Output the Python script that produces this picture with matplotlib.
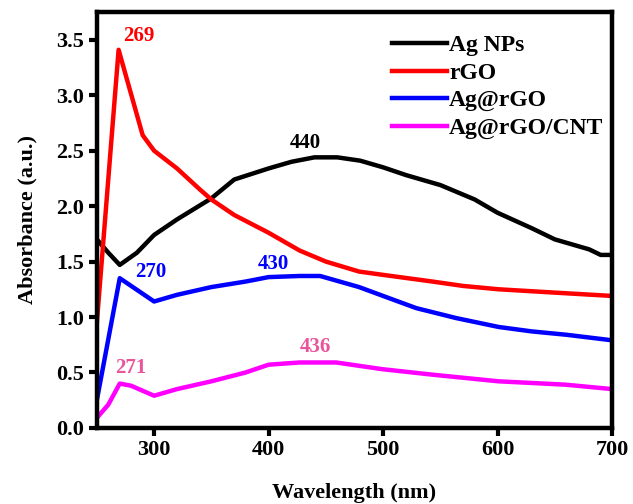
import numpy as np
import matplotlib
matplotlib.use('Agg')
import matplotlib.pyplot as plt

# UV-Vis spectra
wl_ag = [250, 260, 270, 285, 300, 320, 350, 370, 400, 420, 440, 460, 480, 500,
         520, 550, 580, 600, 630, 650, 680, 690, 700]
abs_ag = [1.70, 1.58, 1.47, 1.58, 1.74, 1.88, 2.07, 2.24, 2.34, 2.40, 2.44, 2.44,
          2.41, 2.35, 2.28, 2.19, 2.06, 1.94, 1.80, 1.70, 1.61, 1.56, 1.56]

wl_rgo = [250, 269, 290, 300, 320, 340, 350, 370, 400, 427, 450, 479, 500, 543,
          570, 601, 650, 700]
abs_rgo = [0.95, 3.41, 2.64, 2.50, 2.34, 2.15, 2.06, 1.92, 1.76, 1.60, 1.50, 1.41,
           1.38, 1.32, 1.28, 1.25, 1.22, 1.19]

wl_agrgo = [250, 270, 300, 320, 350, 380, 400, 427, 445, 479, 500, 529, 564, 601,
            630, 660, 700]
abs_agrgo = [0.25, 1.35, 1.14, 1.20, 1.27, 1.32, 1.36, 1.37, 1.37, 1.27, 1.19, 1.08,
             0.99, 0.91, 0.87, 0.84, 0.79]

wl_cnt = [250, 260, 270, 280, 300, 320, 350, 380, 400, 427, 459, 499, 543, 601,
          659, 700]
abs_cnt = [0.09, 0.21, 0.40, 0.38, 0.29, 0.35, 0.42, 0.50, 0.57, 0.59, 0.59, 0.53,
           0.48, 0.42, 0.39, 0.35]

series = [
    ('Ag NPs', wl_ag, abs_ag, 'black'),
    ('rGO', wl_rgo, abs_rgo, 'red'),
    ('Ag@rGO', wl_agrgo, abs_agrgo, 'blue'),
    ('Ag@rGO/CNT', wl_cnt, abs_cnt, 'magenta'),
]

# peak labels: text, x, y, colour
peak_labels = [
    ('269', 287, 3.53, 'red'),
    ('440', 432, 2.57, 'black'),
    ('270', 297, 1.41, 'blue'),
    ('430', 404, 1.48, 'blue'),
    ('271', 280, 0.54, '#e8559a'),
    ('436', 441, 0.73, '#e8559a'),
]

plt.rcParams['font.family'] = ['Liberation Serif', 'DejaVu Serif']
plt.rcParams['font.weight'] = 'bold'

fig = plt.figure(figsize=(6.33, 5.04), dpi=100)
ax = fig.add_axes([0.153, 0.151, 0.814, 0.825])

for name, x, y, c in series:
    ax.plot(x, y, color=c, lw=3.2, label=name)

for txt, x, y, c in peak_labels:
    ax.text(x, y, txt, color=c, fontsize=15, fontweight='bold',
            ha='center', va='center')

ax.set_xlim(250, 700)
ax.set_ylim(0, 3.75)
ax.set_xticks([300, 400, 500, 600, 700])
ax.set_yticks(np.arange(0, 3.51, 0.5))
ax.yaxis.set_major_formatter(matplotlib.ticker.FormatStrFormatter('%.1f'))

for s in ax.spines.values():
    s.set_linewidth(3.2)
ax.tick_params(direction='out', length=6, width=3, labelsize=16, pad=3)
for lab in ax.get_xticklabels() + ax.get_yticklabels():
    lab.set_fontweight('bold')

ax.set_xlabel('Wavelength (nm)', fontsize=16, fontweight='bold', labelpad=16)
ax.set_ylabel('Absorbance (a.u.)', fontsize=16, fontweight='bold', labelpad=14)

leg = ax.legend(loc='upper right', frameon=False, fontsize=17,
                handlelength=2.3, handletextpad=0.1, labelspacing=0.25,
                borderaxespad=0.3, bbox_to_anchor=(1.015, 0.985))
for t in leg.get_texts():
    t.set_fontweight('bold')

fig.savefig('out.png', dpi=100)
